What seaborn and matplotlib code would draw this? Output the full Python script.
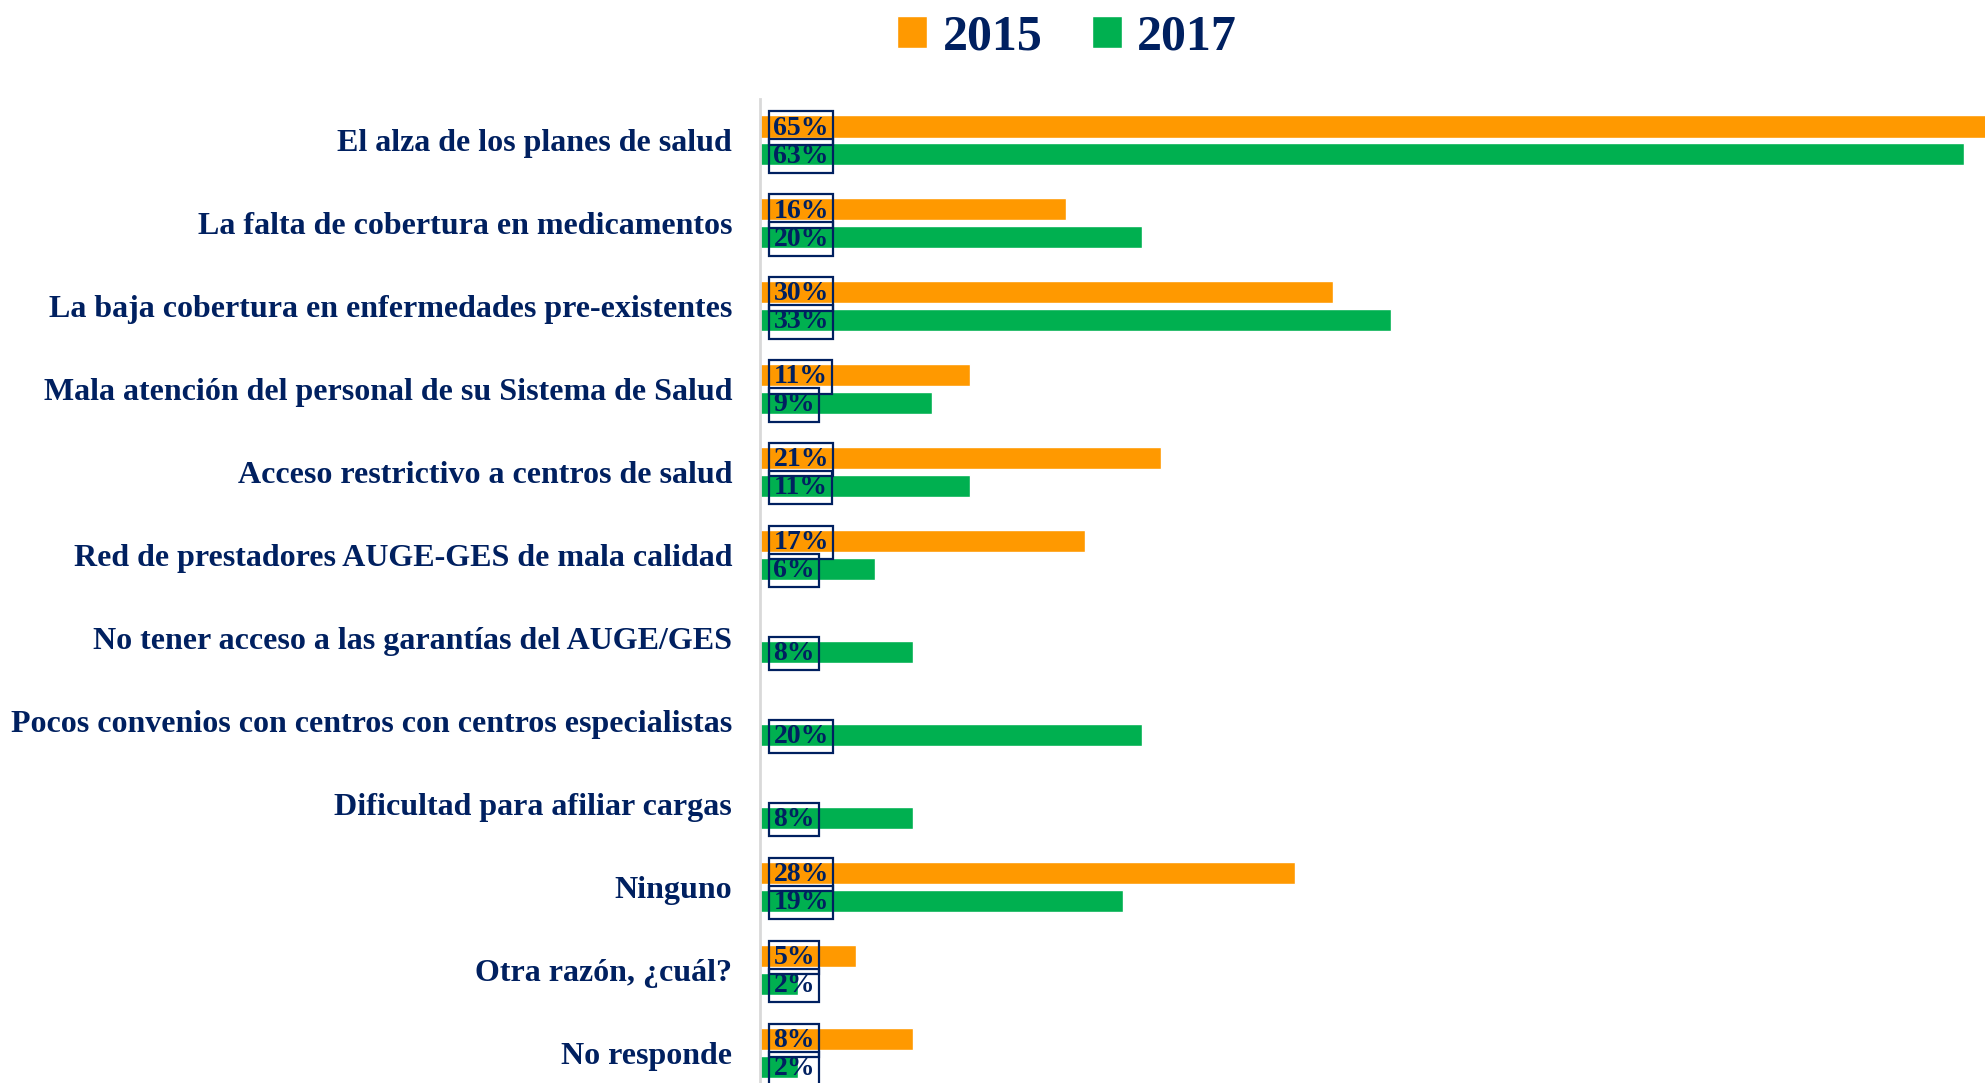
import matplotlib
matplotlib.use("Agg")
import matplotlib.pyplot as plt
import seaborn as sns
import numpy as np
import pandas as pd

categories = [
    "El alza de los planes de salud",
    "La falta de cobertura en medicamentos",
    "La baja cobertura en enfermedades pre-existentes",
    "Mala atención del personal de su Sistema de Salud",
    "Acceso restrictivo a centros de salud",
    "Red de prestadores AUGE-GES de mala calidad",
    "No tener acceso a las garantías del AUGE/GES",
    "Pocos convenios con centros con centros especialistas",
    "Dificultad para afiliar cargas",
    "Ninguno",
    "Otra razón, ¿cuál?",
    "No responde",
]
vals_2015 = [65, 16, 30, 11, 21, 17, np.nan, np.nan, np.nan, 28, 5, 8]
vals_2017 = [63, 20, 33, 9, 11, 6, 8, 20, 8, 19, 2, 2]
years = ["2015", "2017"]

navy = "#002060"
colors = {"2015": "#FF9900", "2017": "#00B050"}

df = pd.DataFrame({
    "categoria": categories * 2,
    "valor": vals_2015 + vals_2017,
    "anio": [years[0]] * len(categories) + [years[1]] * len(categories),
})

sns.set_style("white")
plt.rcParams["font.family"] = ["Liberation Serif", "DejaVu Serif"]
plt.rcParams["font.weight"] = "bold"

fig = plt.figure(figsize=(19.85, 10.83), dpi=100)
ax = fig.add_axes([760 / 1985, -0.0102, 1225 / 1985, 0.9188])

sns.barplot(data=df, y="categoria", x="valor", hue="anio", order=categories,
            hue_order=years, palette=colors, orient="h", width=0.675, gap=0.21,
            saturation=1, ax=ax)

ax.set_xlim(0, 64.1)
ax.set_ylim(len(categories) - 0.5, -0.5)
ax.set_xlabel("")
ax.set_ylabel("")
ax.set_xticks([])
for s in ["top", "right", "bottom"]:
    ax.spines[s].set_visible(False)
ax.spines["left"].set_color("#D9D9D9")
ax.spines["left"].set_linewidth(2)
ax.tick_params(axis="y", length=0, pad=20, labelsize=23, labelcolor=navy)
for t in ax.get_yticklabels():
    t.set_fontweight("bold")

# value labels in boxes
for cont in ax.containers:
    for bar in cont:
        w = bar.get_width()
        if np.isnan(w):
            continue
        ax.text(0.7, bar.get_y() + bar.get_height() / 2 + 0.02, f"{w:.0f}%",
                ha="left", va="center", fontsize=20, fontweight="bold",
                color=navy,
                bbox=dict(boxstyle="square,pad=0.15", fc="none", ec=navy,
                          lw=1.6))

sns.move_legend(ax, "upper center", bbox_to_anchor=(0.5377, 1.028),
                bbox_transform=fig.transFigure, ncol=2, frameon=False,
                title=None, fontsize=36, handlelength=0.6, handleheight=0.6,
                handletextpad=0.3, columnspacing=1.0)
for t in ax.get_legend().get_texts():
    t.set_color(navy)
    t.set_fontweight("bold")

fig.savefig("out.png", dpi=100, facecolor="white")
